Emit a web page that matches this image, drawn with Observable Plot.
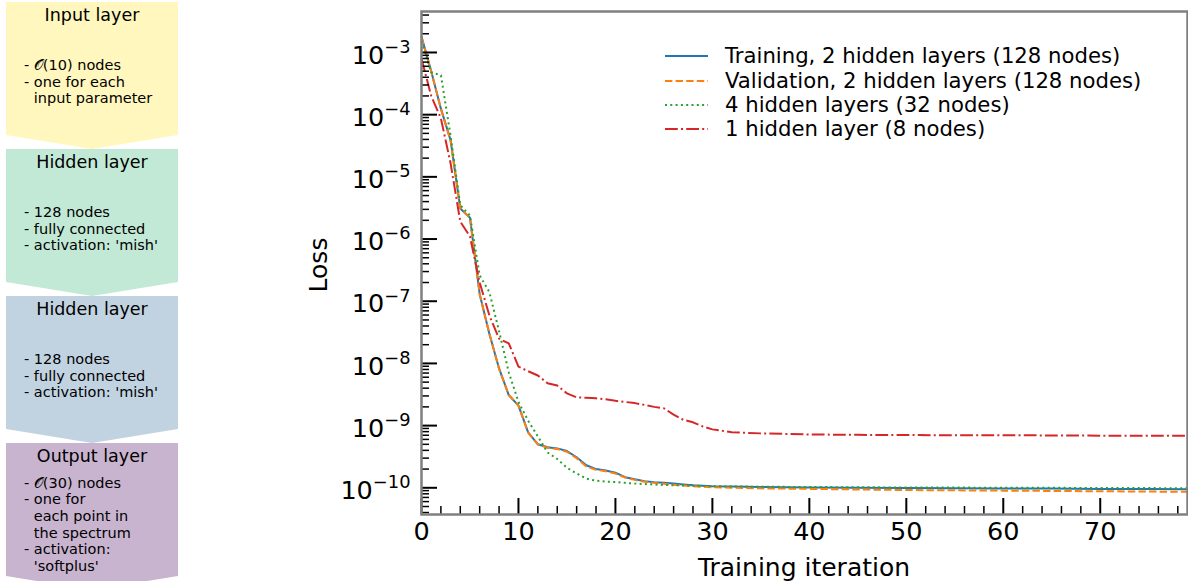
<!DOCTYPE html>
<html>
<head>
<meta charset="utf-8">
<script src="https://cdn.jsdelivr.net/npm/d3@7"></script>
<script src="https://cdn.jsdelivr.net/npm/@observablehq/plot@0.6"></script>
<style>
html, body { margin: 0; padding: 0; background: #fff; }
#wrap { position: relative; width: 1188px; height: 581px; overflow: hidden; font-family: "DejaVu Sans", sans-serif; color: #000; }
#wrap svg.chart { position: absolute; left: 0; top: 0; }
.box { position: absolute; left: 6px; width: 172px; }
.box .title { position: absolute; left: 0; width: 100%; top: 3px; height: 21px; line-height: 21px; text-align: center; font-size: 17.5px; }
.box .body { position: absolute; left: 18px; font-size: 14.5px; line-height: 16.7px; white-space: pre; }
.box .body .cont { padding-left: 9.8px; }
.legend { position: absolute; left: 665px; font-size: 21.2px; }
.legend .row { position: absolute; left: 0; height: 24px; line-height: 24px; white-space: nowrap; }
.legend svg { position: absolute; left: 0; top: 0; }
.legend .lab { position: absolute; left: 60px; top: 0; }
.axlabel { position: absolute; white-space: nowrap; }
</style>
</head>
<body>
<div id="wrap"></div>
<script>
// ---------------- data ----------------
const iterations = [0,1,2,3,4,5,6,7,8,9,10,11,12,13,14,15,16,17,18,19,20,21,22,23,24,25,26,27,28,29,30,32,35,40,45,50,55,60,65,70,75,79];

const trainingLoss = [1.8e-3,5e-4,1.25e-4,3.9e-5,3.1e-6,2.2e-6,1.3e-7,3.0e-8,8.3e-9,3.1e-9,2.1e-9,7.8e-10,5.0e-10,4.5e-10,4.3e-10,3.9e-10,3.1e-10,2.3e-10,2.0e-10,1.9e-10,1.75e-10,1.48e-10,1.37e-10,1.28e-10,1.23e-10,1.2e-10,1.17e-10,1.13e-10,1.1e-10,1.08e-10,1.06e-10,1.05e-10,1.03e-10,1.01e-10,1.0e-10,9.9e-11,9.8e-11,9.75e-11,9.7e-11,9.6e-11,9.55e-11,9.5e-11];

const validationLoss = [1.75e-3,5e-4,1.25e-4,3.8e-5,3.1e-6,2.2e-6,1.3e-7,3.0e-8,8.2e-9,3.1e-9,2.1e-9,7.7e-10,5.0e-10,4.4e-10,4.2e-10,3.8e-10,3.0e-10,2.2e-10,1.95e-10,1.85e-10,1.7e-10,1.46e-10,1.34e-10,1.25e-10,1.2e-10,1.16e-10,1.12e-10,1.09e-10,1.06e-10,1.04e-10,1.02e-10,1.0e-10,9.8e-11,9.6e-11,9.4e-11,9.2e-11,9.1e-11,9.0e-11,8.9e-11,8.8e-11,8.7e-11,8.6e-11];

const fourLayerLoss = [1.5e-3,4.8e-4,4.3e-4,4.6e-5,3.5e-6,2.4e-6,2.6e-7,1.4e-7,3.3e-8,7.2e-9,2.4e-9,1.2e-9,6.7e-10,3.7e-10,2.9e-10,2.1e-10,1.7e-10,1.4e-10,1.3e-10,1.26e-10,1.24e-10,1.2e-10,1.17e-10,1.15e-10,1.13e-10,1.11e-10,1.1e-10,1.09e-10,1.08e-10,1.07e-10,1.06e-10,1.05e-10,1.04e-10,1.03e-10,1.02e-10,1.01e-10,1.01e-10,1.0e-10,1.0e-10,9.9e-11,9.9e-11,9.8e-11];

const oneLayerLoss = [8e-4,2e-4,8.7e-5,1.65e-5,1.9e-6,1.1e-6,2.0e-7,5.9e-8,2.5e-8,2.1e-8,8.9e-9,7.5e-9,6.4e-9,4.8e-9,4.4e-9,3.3e-9,2.85e-9,2.8e-9,2.75e-9,2.65e-9,2.5e-9,2.4e-9,2.3e-9,2.15e-9,2.0e-9,1.9e-9,1.5e-9,1.24e-9,1.13e-9,9.7e-10,8.7e-10,7.8e-10,7.5e-10,7.2e-10,7.1e-10,7.05e-10,7.0e-10,7.0e-10,6.95e-10,6.9e-10,6.9e-10,6.85e-10];

const seriesLabels = ["Training, 2 hidden layers (128 nodes)", "Validation, 2 hidden layers (128 nodes)", "4 hidden layers (32 nodes)", "1 hidden layer (8 nodes)"];

const yMajorExponents = [-10,-9,-8,-7,-6,-5,-4,-3];
const xMajorTicks = [0,10,20,30,40,50,60,70];

const layerTitles = ["Input layer", "Hidden layer", "Hidden layer", "Output layer"];
const layerLines = [
  ["- \u{1D4AA}(10) nodes", "- one for each", "input parameter"],
  ["- 128 nodes", "- fully connected", "- activation: 'mish'"],
  ["- 128 nodes", "- fully connected", "- activation: 'mish'"],
  ["- \u{1D4AA}(30) nodes", "- one for", "each point in", "the spectrum", "- activation:", "'softplus'"]
];

// ---------------- styles ----------------
const colors = ["#1f77b4", "#ff7f0e", "#2ca02c", "#d62728"];
const dashes = [null, "7.4,3.2", "2,3.3", "12.8,3.2,2,3.2"];
const layerColors = ["#fff7be", "#c2e9d6", "#c1d3e0", "#c9b4cf"];

const yDomain = [3.72e-11, 4.56e-3];
const xDomain = [0, 79];
const tickFont = 25.5;

const allSeries = [trainingLoss, validationLoss, fourLayerLoss, oneLayerLoss];
const toRows = vals => iterations.map((x, i) => ({x, y: vals[i]}));

const majorY = yMajorExponents.map(e => Math.pow(10, e));
const minorY = [];
for (let e = -11; e <= -3; e++) for (let k = 2; k <= 9; k++) {
  const v = k * Math.pow(10, e);
  if (v >= yDomain[0] && v <= yDomain[1]) minorY.push(v);
}
const minorX = d3.range(0, 80, 2).filter(v => v % 10 !== 0);

const chart = Plot.plot({
  width: 1188, height: 581,
  marginLeft: 421, marginRight: 1, marginTop: 11, marginBottom: 67,
  style: {fontFamily: "DejaVu Sans", background: "transparent", color: "#000", overflow: "visible"},
  x: {domain: xDomain, label: null},
  y: {type: "log", domain: yDomain, label: null},
  marks: [
    ...allSeries.map((vals, i) => Plot.line(toRows(vals), {
      x: "x", y: "y", stroke: colors[i], strokeWidth: 2,
      strokeDasharray: dashes[i] || undefined, strokeLinecap: "butt", strokeLinejoin: "round"
    })),
    Plot.axisY(minorY, {tickSize: -8, tickFormat: () => "", strokeWidth: 1.5, stroke: "#000"}),
    Plot.axisY(majorY, {tickSize: -16, tickFormat: () => "", strokeWidth: 2, stroke: "#000"}),
    Plot.axisY(majorY, {tickSize: 0, tickPadding: 11, fontSize: tickFont, dy: 3,
      tickFormat: d => "10^" + Math.round(Math.log10(d))}),
    Plot.axisX(minorX, {tickSize: -8, tickFormat: () => "", strokeWidth: 1.5, stroke: "#000"}),
    Plot.axisX(xMajorTicks, {tickSize: -16, tickFormat: () => "", strokeWidth: 2, stroke: "#000"}),
    Plot.axisX(xMajorTicks, {tickSize: 0, tickPadding: 7, fontSize: tickFont, tickFormat: d => String(d)}),
    Plot.frame({stroke: "#808080", strokeWidth: 2.5})
  ]
});
chart.classList.add("chart");

// superscript exponents on y tick labels
d3.select(chart).selectAll('g[aria-label="y-axis tick label"] text').each(function() {
  const s = this.textContent;
  if (!s.includes("^")) return;
  const exp = s.split("^")[1].replace("-", "\u2212");
  this.textContent = "";
  const t = d3.select(this);
  t.append("tspan").text("10");
  t.append("tspan").attr("font-size", (tickFont * 0.7) + "px").attr("dy", -tickFont * 0.42).text(exp);
});

const wrap = document.getElementById("wrap");
wrap.appendChild(chart);

// ---------------- network diagram ----------------
const boxTops = [2, 149, 296, 443];
const bodyTops = [55, 55, 55, 31.5];
layerTitles.forEach((title, i) => {
  const box = document.createElement("div");
  box.className = "box";
  box.style.top = boxTops[i] + "px";
  box.style.height = "147px";
  box.style.background = layerColors[i];
  box.style.clipPath = "polygon(0 0, 100% 0, 100% 133px, 50% 147px, 0 133px)";
  const t = document.createElement("div");
  t.className = "title";
  t.textContent = title;
  box.appendChild(t);
  const body = document.createElement("div");
  body.className = "body";
  body.style.top = bodyTops[i] + "px";
  layerLines[i].forEach(line => {
    const d = document.createElement("div");
    d.textContent = line;
    if (!line.startsWith("- ")) d.className = "cont";
    body.appendChild(d);
  });
  box.appendChild(body);
  wrap.appendChild(box);
});

// ---------------- legend ----------------
const legend = document.createElement("div");
legend.className = "legend";
legend.style.top = "0px";
const rowCenters = [56, 80.5, 105, 129];
seriesLabels.forEach((lab, i) => {
  const row = document.createElement("div");
  row.className = "row";
  row.style.top = (rowCenters[i] - 12) + "px";
  const dash = dashes[i] ? ` stroke-dasharray="${dashes[i]}"` : "";
  row.innerHTML = `<svg width="44" height="24"><line x1="0" x2="43" y1="12" y2="12" stroke="${colors[i]}" stroke-width="2"${dash}/></svg><span class="lab"></span>`;
  row.querySelector(".lab").textContent = lab;
  legend.appendChild(row);
});
wrap.appendChild(legend);

// ---------------- axis titles ----------------
const xl = document.createElement("div");
xl.className = "axlabel";
xl.textContent = "Training iteration";
xl.style.fontSize = "25px";
xl.style.lineHeight = "25px";
xl.style.left = "804px";
xl.style.top = "555px";
xl.style.transform = "translateX(-50%)";
wrap.appendChild(xl);

const yl = document.createElement("div");
yl.className = "axlabel";
yl.textContent = "Loss";
yl.style.fontSize = "25px";
yl.style.left = "318px";
yl.style.top = "265px";
yl.style.transform = "translate(-50%, -50%) rotate(-90deg)";
wrap.appendChild(yl);
</script>
</body>
</html>
